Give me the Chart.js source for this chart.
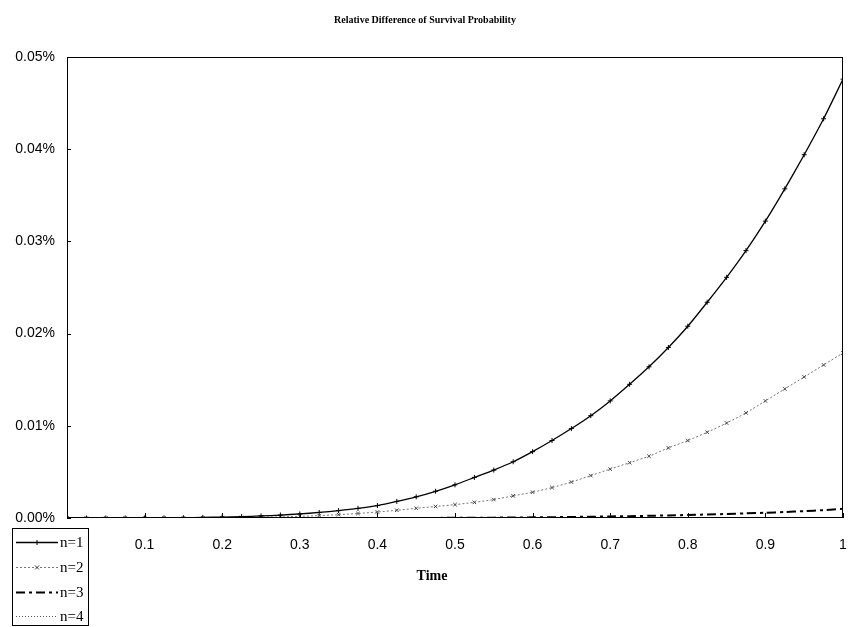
<!DOCTYPE html>
<html>
<head>
<meta charset="utf-8">
<script src="https://cdn.jsdelivr.net/npm/chart.js@4/dist/chart.umd.min.js"></script>
<style>
  html, body { margin: 0; padding: 0; background: #fff; }
  canvas { display: block; }
</style>
</head>
<body>
<canvas id="c" width="848" height="627"></canvas>
<script>
// ---- data (values in percent) ----
const times = [0, 0.025, 0.05, 0.075, 0.1, 0.125, 0.15, 0.175, 0.2, 0.225, 0.25, 0.275, 0.3, 0.325, 0.35, 0.375, 0.4, 0.425, 0.45, 0.475, 0.5, 0.525, 0.55, 0.575, 0.6, 0.625, 0.65, 0.675, 0.7, 0.725, 0.75, 0.775, 0.8, 0.825, 0.85, 0.875, 0.9, 0.925, 0.95, 0.975, 1];
const n1 = [0, 0, 0, 0.000001, 0.000006, 0.000015, 0.00003, 0.00006, 0.0001, 0.00015, 0.00022, 0.00032, 0.00044, 0.0006, 0.0008, 0.00104, 0.00135, 0.0018, 0.0023, 0.0029, 0.0036, 0.0044, 0.0052, 0.0061, 0.0072, 0.0084, 0.0097, 0.0111, 0.0127, 0.0145, 0.0164, 0.0185, 0.0208, 0.0234, 0.0261, 0.0290, 0.0322, 0.0357, 0.0394, 0.0433, 0.0476];
const n2 = [0, 0, 0, 0, 0.000002, 0.000005, 0.00001, 0.00002, 0.00003, 0.00005, 0.00008, 0.00012, 0.00018, 0.00026, 0.00036, 0.00049, 0.00065, 0.00084, 0.00105, 0.00125, 0.00145, 0.0017, 0.002, 0.0024, 0.0028, 0.0033, 0.0039, 0.0046, 0.0053, 0.006, 0.0067, 0.0076, 0.0084, 0.0093, 0.0103, 0.0114, 0.0127, 0.014, 0.0153, 0.0166, 0.0179];
const n3 = [0, 0, 0, 0, 0, 0, 0, 0, 0, 0, 0, 0, 0, 0, 0, 0, 0, 0, 0, 0.00001, 0.00002, 0.00003, 0.00004, 0.00005, 0.00007, 0.00009, 0.00011, 0.00014, 0.00017, 0.0002, 0.00024, 0.00028, 0.00033, 0.00038, 0.00044, 0.0005, 0.00057, 0.00065, 0.00074, 0.00085, 0.001];
const n4 = [0, 0, 0, 0, 0, 0, 0, 0, 0, 0, 0, 0, 0, 0, 0, 0, 0, 0, 0, 0, 0, 0, 0, 0, 0, 0, 0, 0, 0, 0.000002, 0.000003, 0.000004, 0.000006, 0.000008, 0.00001, 0.000013, 0.000016, 0.00002, 0.000023, 0.000027, 0.00003];
const seriesNames = ['n=1', 'n=2', 'n=3', 'n=4'];
const xTickValues = [0.1, 0.2, 0.3, 0.4, 0.5, 0.6, 0.7, 0.8, 0.9, 1];
const xTickLabels = ['0.1', '0.2', '0.3', '0.4', '0.5', '0.6', '0.7', '0.8', '0.9', '1'];
const yTickValues = [0, 0.01, 0.02, 0.03, 0.04, 0.05];
const yTickLabels = ['0.00%', '0.01%', '0.02%', '0.03%', '0.04%', '0.05%'];
const titleText = 'Relative Difference of Survival Probability';
const xTitleText = 'Time';

const toPts = (arr) => arr.map((v, i) => ({ x: times[i], y: v }));

const styles = [
  { borderColor: '#000', borderWidth: 1.3, borderDash: [], pointStyle: 'cross', pointRadius: 2.5, pointBorderColor: '#000' },
  { borderColor: '#777', borderWidth: 1, borderDash: [2, 2], pointStyle: 'crossRot', pointRadius: 2.5, pointBorderColor: '#444' },
  { borderColor: '#000', borderWidth: 2, borderDash: [9, 4, 3, 4], pointStyle: false, pointRadius: 0, pointBorderColor: '#000' },
  { borderColor: '#555', borderWidth: 1, borderDash: [1, 2], pointStyle: false, pointRadius: 0, pointBorderColor: '#555' }
];
const allSeries = [n1, n2, n3, n4];

const datasets = allSeries.map((s, i) => Object.assign({
  label: seriesNames[i],
  data: toPts(s),
  fill: false,
  tension: 0.2,
  pointBorderWidth: 1,
  pointBackgroundColor: 'transparent'
}, styles[i]));

const framePlugin = {
  id: 'frame',
  afterDatasetsDraw(chart) {
    const { ctx, chartArea: a, scales } = chart;
    ctx.save();
    ctx.strokeStyle = '#000';
    ctx.lineWidth = 1;
    ctx.beginPath();
    ctx.moveTo(a.left, a.top + 0.5); ctx.lineTo(a.right, a.top + 0.5);
    ctx.moveTo(a.right - 0.5, a.top); ctx.lineTo(a.right - 0.5, a.bottom);
    ctx.moveTo(a.left, a.bottom - 0.5); ctx.lineTo(a.right, a.bottom - 0.5);
    ctx.moveTo(a.left + 0.5, a.top); ctx.lineTo(a.left + 0.5, a.bottom);
    xTickValues.forEach(v => {
      const x = Math.round(scales.x.getPixelForValue(v)) + 0.5;
      ctx.moveTo(x, a.bottom); ctx.lineTo(x, a.bottom - 5);
    });
    yTickValues.forEach(v => {
      const y = Math.round(scales.y.getPixelForValue(v)) + 0.5;
      ctx.moveTo(a.left, y); ctx.lineTo(a.left + 4, y);
    });
    ctx.stroke();

    // title and axis title
    ctx.fillStyle = '#000';
    ctx.textAlign = 'center';
    ctx.textBaseline = 'middle';
    ctx.font = 'bold 10px "Liberation Serif", "Times New Roman", serif';
    ctx.fillText(titleText, 425, 20);
    ctx.font = 'bold 14px "Liberation Serif", "Times New Roman", serif';
    ctx.fillText(xTitleText, 432, 576);

    // legend
    const bx = 12, by = 528, bw = 76, bh = 97;
    ctx.lineWidth = 1;
    ctx.strokeStyle = '#000';
    ctx.strokeRect(bx + 0.5, by + 0.5, bw, bh);
    const rows = [542, 567, 592, 616];
    ctx.font = '15px "Liberation Serif", "Times New Roman", serif';
    ctx.textAlign = 'left';
    chart.data.datasets.forEach((ds, i) => {
      const y = rows[i] + 0.5;
      ctx.save();
      ctx.strokeStyle = ds.borderColor;
      ctx.lineWidth = ds.borderWidth;
      ctx.setLineDash(ds.borderDash || []);
      ctx.beginPath();
      ctx.moveTo(16, y); ctx.lineTo(58, y);
      ctx.stroke();
      ctx.setLineDash([]);
      if (ds.pointStyle) {
        ctx.lineWidth = 1;
        ctx.strokeStyle = ds.pointBorderColor;
        ctx.beginPath();
        if (ds.pointStyle === 'cross') {
          ctx.moveTo(37, y - 2.5); ctx.lineTo(37, y + 2.5);
          ctx.moveTo(34.5, y); ctx.lineTo(39.5, y);
        } else {
          ctx.moveTo(35, y - 2); ctx.lineTo(39, y + 2);
          ctx.moveTo(35, y + 2); ctx.lineTo(39, y - 2);
        }
        ctx.stroke();
      }
      ctx.restore();
      ctx.fillStyle = '#000';
      ctx.fillText(ds.label, 60, rows[i] + 1);
    });
    ctx.restore();
  }
};

new Chart(document.getElementById('c'), {
  type: 'line',
  data: { datasets },
  options: {
    responsive: false,
    animation: false,
    layout: { padding: { left: 0, right: 3, top: 57, bottom: 0 } },
    plugins: { legend: { display: false }, title: { display: false }, tooltip: { enabled: false } },
    scales: {
      x: {
        type: 'linear', min: 0, max: 1,
        afterFit: (s) => { s.height = 109; s.paddingLeft = 0; s.paddingRight = 0; },
        afterBuildTicks: (s) => { s.ticks = xTickValues.map(v => ({ value: v })); },
        grid: { display: false, drawTicks: false },
        border: { display: false },
        ticks: {
          padding: 19,
          maxRotation: 0,
          autoSkip: false,
          color: '#000',
          font: { family: '"Liberation Sans", Arial, sans-serif', size: 14 },
          callback: (v) => { const i = xTickValues.findIndex(t => Math.abs(t - v) < 1e-9); return i >= 0 ? xTickLabels[i] : ''; }
        }
      },
      y: {
        type: 'linear', min: 0, max: 0.05,
        afterFit: (s) => { s.width = 67; s.paddingTop = 0; s.paddingBottom = 0; },
        afterBuildTicks: (s) => { s.ticks = yTickValues.map(v => ({ value: v })); },
        grid: { display: false, drawTicks: false },
        border: { display: false },
        ticks: {
          padding: 12,
          autoSkip: false,
          color: '#000',
          font: { family: '"Liberation Sans", Arial, sans-serif', size: 14 },
          callback: (v) => { const i = yTickValues.findIndex(t => Math.abs(t - v) < 1e-9); return i >= 0 ? yTickLabels[i] : ''; }
        }
      }
    }
  },
  plugins: [framePlugin]
});
</script>
</body>
</html>
